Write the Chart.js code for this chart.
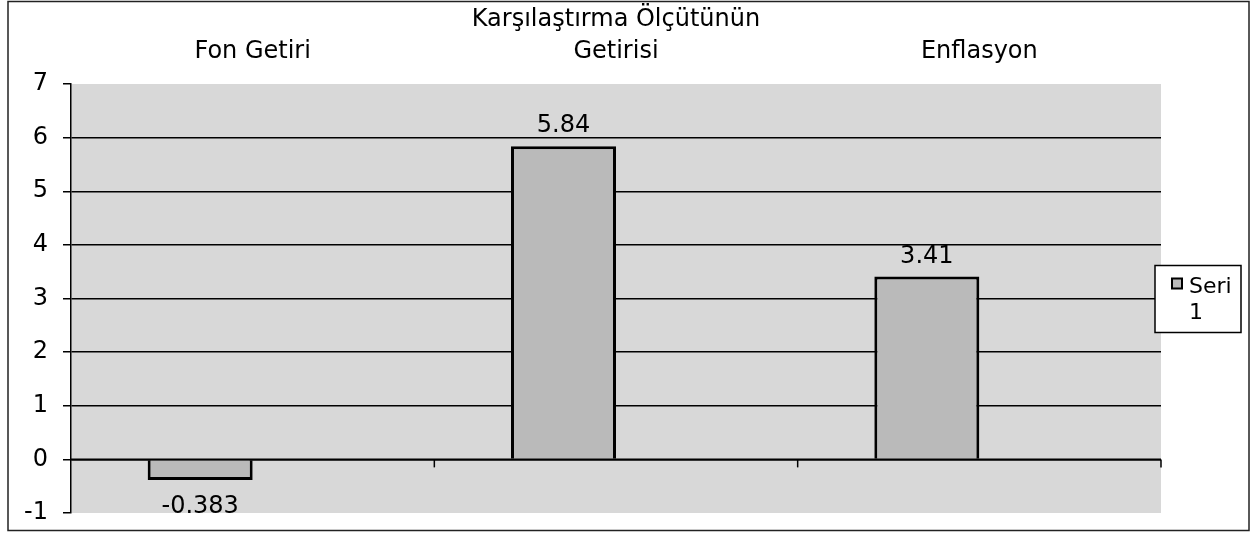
<!DOCTYPE html>
<html>
<head>
<meta charset="utf-8">
<script src="https://cdn.jsdelivr.net/npm/chart.js@4"></script>
<style>
  html, body { margin: 0; padding: 0; background: #ffffff; }
  #wrap { width: 1252px; height: 535px; position: relative; }
</style>
</head>
<body>
<div id="wrap"><canvas id="c" width="1252" height="535"></canvas></div>
<script>
// ---- data ----
const categories = ['Fon Getiri', ['Karşılaştırma Ölçütünün', 'Getirisi'], 'Enflasyon'];
const seriesName = 'Seri 1';
const seri1 = [-0.383, 5.84, 3.41];
const seri2 = [null, null, null];
const yTicks = [-1, 0, 1, 2, 3, 4, 5, 6, 7];

const FONT = '"DejaVu Sans", "Liberation Sans", Arial, sans-serif';
const PLOT_BG = '#d8d8d8';
const BAR_BG = '#bababa';

const bgPlugin = {
  id: 'bg',
  beforeDraw(chart) {
    const { ctx, chartArea: a } = chart;
    ctx.save();
    ctx.fillStyle = '#ffffff';
    ctx.fillRect(0, 0, chart.width, chart.height);
    ctx.fillStyle = PLOT_BG;
    ctx.fillRect(a.left, a.top, a.right - a.left, a.bottom - a.top);
    ctx.restore();
  },
  afterDraw(chart) {
    const { ctx, chartArea: a } = chart;
    ctx.save();
    // outer frame
    ctx.strokeStyle = '#222';
    ctx.lineWidth = 1.5;
    ctx.strokeRect(8, 1.5, chart.width - 11, chart.height - 6);
    // legend box
    const lx = a.right - 6, ly = a.top + (a.bottom - a.top) / 2 - 33, lw = 86, lh = 67;
    ctx.fillStyle = '#ffffff';
    ctx.fillRect(lx, ly, lw, lh);
    ctx.strokeStyle = '#000';
    ctx.lineWidth = 1.5;
    ctx.strokeRect(lx, ly, lw, lh);
    ctx.fillStyle = BAR_BG;
    ctx.fillRect(lx + 17, ly + 13, 10, 10);
    ctx.lineWidth = 2;
    ctx.strokeRect(lx + 17, ly + 13, 10, 10);
    ctx.fillStyle = '#000';
    ctx.font = '22px ' + FONT;
    ctx.textBaseline = 'alphabetic';
    const parts = seriesName.split(' ');
    ctx.textAlign = 'left';
    ctx.fillText(parts[0], lx + 34, ly + 27);
    ctx.textAlign = 'center';
    ctx.fillText(parts[1], lx + 41, ly + 53);
    ctx.restore();
  }
};

const extrasPlugin = {
  id: 'extras',
  afterDatasetsDraw(chart) {
    const { ctx, chartArea: a } = chart;
    const xs = chart.scales.x, ys = chart.scales.y;
    const y0 = ys.getPixelForValue(0);
    ctx.save();
    ctx.strokeStyle = '#000';
    // zero (category) axis line over the bar bases
    ctx.lineWidth = 2;
    ctx.beginPath();
    ctx.moveTo(a.left, y0);
    ctx.lineTo(a.right, y0);
    ctx.stroke();
    // category separator ticks on the zero line
    ctx.lineWidth = 1.5;
    const n = categories.length;
    for (let i = 1; i <= n; i++) {
      let x;
      if (i < n) x = (xs.getPixelForValue(i - 1) + xs.getPixelForValue(i)) / 2;
      else x = a.right;
      ctx.beginPath();
      ctx.moveTo(x, y0);
      ctx.lineTo(x, y0 + 8);
      ctx.stroke();
    }
    // data labels
    ctx.fillStyle = '#000';
    ctx.font = '24px ' + FONT;
    ctx.textAlign = 'center';
    ctx.textBaseline = 'middle';
    const meta = chart.getDatasetMeta(0);
    meta.data.forEach((el, i) => {
      const v = seri1[i];
      const y = v >= 0 ? el.y - 20 : el.y + 27;
      ctx.fillText(String(v), el.x, y);
    });
    ctx.restore();
  }
};

new Chart(document.getElementById('c'), {
  type: 'bar',
  data: {
    labels: categories,
    datasets: [
      { label: seriesName, data: seri1, backgroundColor: BAR_BG, borderColor: '#000', borderWidth: 3, borderSkipped: 'start', inflateAmount: 0 },
      { label: '', data: seri2, backgroundColor: BAR_BG, borderColor: '#000', borderWidth: 3, borderSkipped: 'start', inflateAmount: 0 }
    ]
  },
  options: {
    responsive: false,
    animation: false,
    devicePixelRatio: 1,
    categoryPercentage: 0.578,
    barPercentage: 1,
    layout: { padding: { left: 0, top: 0, right: 91, bottom: 22 } },
    plugins: { legend: { display: false }, tooltip: { enabled: false }, title: { display: false } },
    scales: {
      x: {
        position: 'top',
        grid: { display: false, drawTicks: false },
        border: { display: false },
        ticks: { color: '#000', font: { family: FONT, size: 24, lineHeight: 1.33 }, padding: 16, maxRotation: 0, autoSkip: false },
        afterFit(scale) { scale.height = 84; scale.paddingLeft = 0; scale.paddingRight = 0; }
      },
      y: {
        min: -1, max: 7,
        afterBuildTicks(scale) { scale.ticks = yTicks.map(v => ({ value: v })); },
        grid: {
          color: (c) => (c.tick && (c.tick.value === -1 || c.tick.value === 7)) ? 'rgba(0,0,0,0)' : '#000',
          tickColor: '#000',
          tickLength: 8,
          lineWidth: 1.5
        },
        border: { display: true, color: '#000', width: 1.5 },
        ticks: { color: '#000', font: { family: FONT, size: 24 }, padding: 15 },
        afterFit(scale) { scale.width = 71; scale.paddingTop = 0; scale.paddingBottom = 0; }
      }
    }
  },
  plugins: [bgPlugin, extrasPlugin]
});
</script>
</body>
</html>
